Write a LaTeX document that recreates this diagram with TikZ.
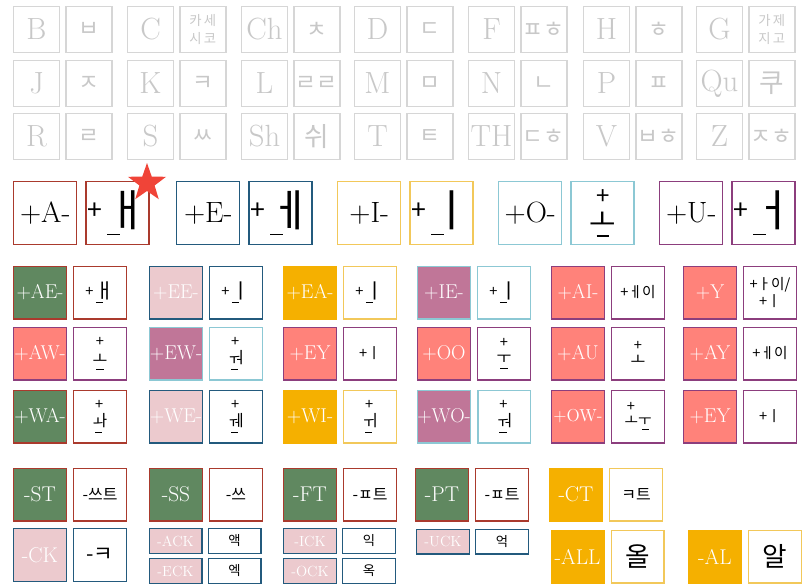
\documentclass[tikz,border=0pt]{standalone}
\usepackage{fontspec}
\usepackage{graphicx}
\newfontfamily\kr{Noto Sans CJK KR}
\usetikzlibrary{positioning,shapes.geometric}
\definecolor{keyline}{RGB}{214,214,214}
\definecolor{keytext}{RGB}{200,200,200}
\definecolor{cdarkred}{RGB}{170,58,45}
\definecolor{cdarkblue}{RGB}{35,90,125}
\definecolor{cgold}{RGB}{245,176,0}
\definecolor{clightgold}{RGB}{242,200,90}
\definecolor{clightblue}{RGB}{140,200,212}
\definecolor{cpurple}{RGB}{140,62,125}
\definecolor{cgreen}{RGB}{96,136,96}
\definecolor{cpink}{RGB}{236,202,206}
\definecolor{cmauve}{RGB}{192,118,152}
\definecolor{csalmon}{RGB}{255,130,122}
\definecolor{cstar}{RGB}{240,68,56}
\newcommand{\jside}[2][1.6]{\raisebox{\dimexpr(#1em-1em)*40/100\relax}{+}\,\vtop{\offinterlineskip\hbox{\scalebox{#1}{#2}}\kern0.15em\hbox{\rule{0.5em}{0.07em}}}}
\newcommand{\jtop}[2][1.3]{\shortstack{+\\[3pt]\scalebox{#1}{#2}\\\rule{0.5em}{0.07em}}}
\newcommand{\jtopl}[2][1.3]{\shortstack[l]{\,+\\\scalebox{#1}{#2}\\\,\rule{0.5em}{0.07em}}}
\tikzset{
  gkey/.style={draw=keyline, line width=1pt, text=keytext, minimum size=34.5pt, inner sep=0pt, font=\fontsize{23}{24}\selectfont},
  gjamo/.style={gkey, font=\kr\fontsize{17}{17}\selectfont},
  gtiny/.style={gkey, align=center, font=\kr\fontsize{10}{13}\selectfont},
  vkey/.style={draw=#1, fill=white, line width=1.1pt, minimum size=47.25pt, inner sep=0pt, font=\fontsize{22}{22}\selectfont},
  vjamo/.style={vkey=#1, font=\kr\fontsize{20}{20}\selectfont},
  ckey/.style 2 args={draw=#1, fill=#2, line width=1.1pt, text=white, minimum size=39.4pt, inner sep=0pt, font=\fontsize{15}{15}\selectfont},
  cjamo/.style={draw=#1, fill=white, line width=1.1pt, minimum size=39.4pt, inner sep=0pt, align=center, font=\kr\fontsize{11}{13}\selectfont},
  skey/.style={ckey={cdarkblue}{cpink}, minimum height=18.4pt, font=\fontsize{11}{11}\selectfont},
  sjamo/.style={cjamo=cdarkblue, minimum height=18.4pt, font=\kr\fontsize{10}{10}\selectfont},
}
\begin{document}
\begin{tikzpicture}[x=0.75pt, y=-0.75pt]
			%%%%% START %%%%%
			\path[fill=white, use as bounding box] (0, 0) rectangle (807, 585);
			
			% consonant keys
			\node[gkey] (b) at (36.5, 29.5) {B};
			\node[gjamo, right=3.75pt of b] (bk) {ㅂ};
			\node[gkey] (c) at (150.5, 29.5) {C};
			\node[gtiny, right=3.75pt of c] (ck) {카\,세\\시\,코};
			\node[gkey] (ch) at (264.5, 29.5) {Ch};
			\node[gjamo, right=3.75pt of ch] (chk) {ㅊ};
			\node[gkey] (d) at (377.5, 29.5) {D};
			\node[gjamo, right=3.75pt of d] (dk) {ㄷ};
			\node[gkey] (f) at (491.5, 29.5) {F};
			\node[gjamo, right=3.75pt of f] (fk) {ㅍㅎ};
			\node[gkey] (h) at (606.5, 29.5) {H};
			\node[gjamo, right=3.75pt of h] (hk) {ㅎ};
			\node[gkey] (g) at (719.5, 29.5) {G};
			\node[gtiny, right=3.75pt of g] (gk) {가\,제\\지\,고};
			
			\node[gkey] (j) at (36.5, 83.5) {J};
			\node[gjamo, right=3.75pt of j] (jk) {ㅈ};
			\node[gkey] (k) at (150.5, 83.5) {K};
			\node[gjamo, right=3.75pt of k] (kk) {ㅋ};
			\node[gkey] (l) at (264.5, 83.5) {L};
			\node[gjamo, right=3.75pt of l] (lk) {ㄹㄹ};
			\node[gkey] (m) at (377.5, 83.5) {M};
			\node[gjamo, right=3.75pt of m] (mk) {ㅁ};
			\node[gkey] (n) at (491.5, 83.5) {N};
			\node[gjamo, right=3.75pt of n] (nk) {ㄴ};
			\node[gkey] (p) at (606.5, 83.5) {P};
			\node[gjamo, right=3.75pt of p] (pk) {ㅍ};
			\node[gkey] (qu) at (719.5, 83.5) {Qu};
			\node[gjamo, font=\kr\fontsize{20}{20}\selectfont, right=3.75pt of qu] (quk) {쿠};
			
			\node[gkey] (r) at (36.5, 136.5) {R};
			\node[gjamo, right=3.75pt of r] (rk) {ㄹ};
			\node[gkey] (s) at (150.5, 136.5) {S};
			\node[gjamo, right=3.75pt of s] (sk) {ㅆ};
			\node[gkey] (sh) at (264.5, 136.5) {Sh};
			\node[gjamo, font=\kr\fontsize{20}{20}\selectfont, right=3.75pt of sh] (shk) {쉬};
			\node[gkey] (t) at (377.5, 136.5) {T};
			\node[gjamo, right=3.75pt of t] (tk) {ㅌ};
			\node[gkey] (th) at (491.5, 136.5) {TH};
			\node[gjamo, right=3.75pt of th] (thk) {ㄷㅎ};
			\node[gkey] (v) at (606.5, 136.5) {V};
			\node[gjamo, right=3.75pt of v] (vk) {ㅂㅎ};
			\node[gkey] (z) at (719.5, 136.5) {Z};
			\node[gjamo, right=3.75pt of z] (zk) {ㅈㅎ};
			
			% vowel keys
			\node[vkey=cdarkred] (va) at (45.25, 213) {+A-};
			\node[vjamo=cdarkred, right=6pt of va] (vak) {\jside[1.65]{ㅐ}};
			\node[vkey=cdarkblue] (ve) at (208.25, 213) {+E-};
			\node[vjamo=cdarkblue, right=6pt of ve] (vek) {\jside[1.65]{ㅔ}};
			\node[vkey=clightgold] (vi) at (369.25, 213) {+I-};
			\node[vjamo=clightgold, right=6pt of vi] (vik) {\jside[1.65]{ㅣ}};
			\node[vkey=clightblue] (vo) at (530.25, 213) {+O-};
			\node[vjamo=clightblue, font=\kr\fontsize{18}{18}\selectfont, right=6pt of vo] (vok) {\jtop[1.2]{ㅗ}};
			\node[vkey=cpurple] (vu) at (691.25, 213) {+U-};
			\node[vjamo=cpurple, right=6pt of vu] (vuk) {\jside[1.65]{ㅓ}};
			
			\node[star, star points=5, star point ratio=2.5, fill=cstar, minimum size=30pt, inner sep=0pt] (best) at (147, 183) {};
			
			% combined vowels
			\node[ckey={cdarkred}{cgreen}] (ae) at (40, 292.5) {+AE-};
			\node[cjamo=cdarkred, right=4.5pt of ae] (aek) {\jside[1.4]{ㅐ}};
			\node[ckey={cpurple}{csalmon}] (aw) at (40, 353.5) {+AW-};
			\node[cjamo=cpurple, right=4.5pt of aw] (awk) {\jtop[1.1]{ㅗ}};
			\node[ckey={cdarkred}{cgreen}] (wa) at (40, 416.5) {+WA-};
			\node[cjamo=cdarkred, right=4.5pt of wa] (wak) {\jtopl[1.1]{ㅘ}};
			
			\node[ckey={cdarkblue}{cpink}] (ee) at (176, 292.5) {+EE-};
			\node[cjamo=cdarkblue, right=4.5pt of ee] (eek) {\jside[1.4]{ㅣ}};
			\node[ckey={clightblue}{cmauve}] (ew) at (176, 353.5) {+EW-};
			\node[cjamo=clightblue, right=4.5pt of ew] (ewk) {\jtopl[1.1]{ㅝ}};
			\node[ckey={cdarkblue}{cpink}] (we) at (176, 416.5) {+WE-};
			\node[cjamo=cdarkblue, right=4.5pt of we] (wek) {\jtopl[1.1]{ㅞ}};
			
			\node[ckey={cgold}{cgold}] (ea) at (310, 292.5) {+EA-};
			\node[cjamo=clightgold, right=4.5pt of ea] (eak) {\jside[1.4]{ㅣ}};
			\node[ckey={cpurple}{csalmon}] (ey) at (310, 353.5) {+EY};
			\node[cjamo=cpurple, right=4.5pt of ey] (eyk) {+ㅣ};
			\node[ckey={cgold}{cgold}] (wi) at (310, 416.5) {+WI-};
			\node[cjamo=clightgold, right=4.5pt of wi] (wik) {\jtopl[1.1]{ㅟ}};
			
			\node[ckey={clightblue}{cmauve}] (ie) at (444, 292.5) {+IE-};
			\node[cjamo=clightblue, right=4.5pt of ie] (iek) {\jside[1.4]{ㅣ}};
			\node[ckey={cpurple}{csalmon}] (oo) at (444, 353.5) {+OO};
			\node[cjamo=cpurple, right=4.5pt of oo] (ook) {\jtop[1.1]{ㅜ}};
			\node[ckey={clightblue}{cmauve}] (wo) at (444, 416.5) {+WO-};
			\node[cjamo=clightblue, right=4.5pt of wo] (wok) {\jtopl[1.1]{ㅝ}};
			
			\node[ckey={cpurple}{csalmon}] (ai) at (578, 292.5) {+AI-};
			\node[cjamo=cpurple, right=4.5pt of ai] (aik) {+ㅔ이};
			\node[ckey={cpurple}{csalmon}] (au) at (578, 353.5) {+AU};
			\node[cjamo=cpurple, right=4.5pt of au] (auk) {\shortstack{+\\\scalebox{1.1}{ㅗ}}};
			\node[ckey={cpurple}{csalmon}, font=\fontsize{13}{13}\selectfont] (ow) at (578, 416.5) {+OW-};
			\node[cjamo=cpurple, right=4.5pt of ow] (owk) {\shortstack[l]{\,+\\ㅗㅜ\\\hspace{1.2em}\rule{0.5em}{0.07em}}};
			
			\node[ckey={cpurple}{csalmon}] (y) at (710, 292.5) {+Y};
			\node[cjamo=cpurple, right=4.5pt of y] (yk) {+ㅏ이/\\+ㅣ};
			\node[ckey={cpurple}{csalmon}] (ay) at (710, 353.5) {+AY};
			\node[cjamo=cpurple, right=4.5pt of ay] (ayk) {+ㅔ이};
			\node[ckey={cpurple}{csalmon}] (ey2) at (710, 416.5) {+EY};
			\node[cjamo=cpurple, right=4.5pt of ey2] (ey2k) {+ㅣ};
			
			% final consonants
			\node[ckey={cdarkred}{cgreen}, font=\fontsize{16}{16}\selectfont] (est) at (40, 494.5) {-ST};
			\node[cjamo=cdarkred, font=\kr\fontsize{12}{12}\selectfont, right=4.5pt of est] (estk) {-쓰트};
			\node[ckey={cdarkred}{cgreen}, font=\fontsize{16}{16}\selectfont] (ess) at (176, 494.5) {-SS};
			\node[cjamo=cdarkred, font=\kr\fontsize{12}{12}\selectfont, right=4.5pt of ess] (essk) {-쓰};
			\node[ckey={cdarkred}{cgreen}, font=\fontsize{16}{16}\selectfont] (eft) at (310, 494.5) {-FT};
			\node[cjamo=cdarkred, font=\kr\fontsize{12}{12}\selectfont, right=4.5pt of eft] (eftk) {-ㅍ트};
			\node[ckey={cdarkred}{cgreen}, font=\fontsize{16}{16}\selectfont] (ept) at (442, 494.5) {-PT};
			\node[cjamo=cdarkred, font=\kr\fontsize{12}{12}\selectfont, right=4.5pt of ept] (eptk) {-ㅍ트};
			\node[ckey={cgold}{cgold}, font=\fontsize{16}{16}\selectfont] (ect) at (576, 494.5) {-CT};
			\node[cjamo=clightgold, font=\kr\fontsize{12}{12}\selectfont, right=4.5pt of ect] (ectk) {ㅋ트};
			
			\node[ckey={cdarkblue}{cpink}, font=\fontsize{16}{16}\selectfont] (eck) at (40, 555) {-CK};
			\node[cjamo=cdarkblue, font=\kr\fontsize{16}{16}\selectfont, right=4.5pt of eck] (eckk) {-ㅋ};
			\node[skey] (eack) at (175.5, 541) {-ACK};
			\node[sjamo, right=3.75pt of eack] (eackk) {액};
			\node[skey, below=3pt of eack] (eeck) {-ECK};
			\node[sjamo, right=3.75pt of eeck] (eeckk) {엑};
			\node[skey] (eick) at (310, 541) {-ICK};
			\node[sjamo, right=3.75pt of eick] (eickk) {익};
			\node[skey, below=3pt of eick] (eock) {-OCK};
			\node[sjamo, right=3.75pt of eock] (eockk) {옥};
			\node[skey] (euck) at (443, 541.5) {-UCK};
			\node[sjamo, right=3.75pt of euck] (euckk) {억};
			\node[ckey={cgold}{cgold}, font=\fontsize{16}{16}\selectfont] (eall) at (577.5, 556.5) {-ALL};
			\node[cjamo=clightgold, font=\kr\fontsize{20}{20}\selectfont, right=4.5pt of eall] (eallk) {올};
			\node[ckey={cgold}{cgold}, font=\fontsize{16}{16}\selectfont] (eal) at (715, 556.5) {-AL};
			\node[cjamo=clightgold, font=\kr\fontsize{20}{20}\selectfont, right=4.5pt of eal] (ealk) {알};
			
			%%%%% END %%%%%
		\end{tikzpicture}
\end{document}
